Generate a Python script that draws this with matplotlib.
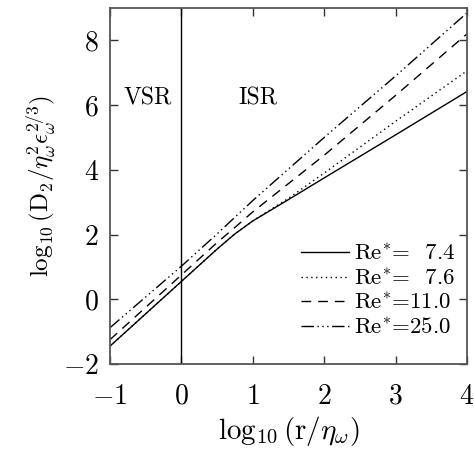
import numpy as np
import matplotlib
matplotlib.use("Agg")
import matplotlib.pyplot as plt

plt.rcParams['font.family'] = 'cmr10'
plt.rcParams['mathtext.fontset'] = 'cm'
plt.rcParams['axes.formatter.use_mathtext'] = True
plt.rcParams['lines.scale_dashes'] = False

# curves: log10(r/eta) vs log10(D2/...)
x_solid = [-1.0, 0.0, 0.5, 0.75, 1.0, 1.5, 2.0, 3.0, 4.0]
y_solid = [-1.45, 0.55, 1.55, 2.02, 2.42, 3.08, 3.75, 5.08, 6.42]

x_dot = [-1.0, 0.0, 0.5, 0.75, 1.0, 1.5, 2.0, 3.0, 4.0]
y_dot = [-1.45, 0.55, 1.55, 2.02, 2.42, 3.12, 3.9, 5.5, 7.06]

x_dash = [-1.0, 0.0, 0.5, 0.75, 1.0, 2.0, 3.0, 4.0]
y_dash = [-1.25, 0.75, 1.75, 2.22, 2.7, 4.45, 6.3, 8.2]

x_dd = [-1.0, 0.0, 0.5, 1.0, 2.0, 3.0, 4.0]
y_dd = [-0.88, 1.02, 2.02, 3.05, 5.0, 6.9, 8.85]

labels = ['Re$^{*}$=  7.4', 'Re$^{*}$=  7.6', 'Re$^{*}$=11.0', 'Re$^{*}$=25.0']

fig = plt.figure(figsize=(4.74, 4.51), dpi=100)
ax = fig.add_axes([0.232, 0.193, 0.753, 0.789])

lw = 1.0
ax.plot(x_solid, y_solid, color='black', lw=lw, ls='-', label=labels[0])
ax.plot(x_dot, y_dot, color='black', lw=lw, ls=(0, (1, 2.5)), label=labels[1])
ax.plot(x_dash, y_dash, color='black', lw=lw, ls=(0, (7, 5)), label=labels[2])
ax.plot(x_dd, y_dd, color='black', lw=lw,
        ls=(0, (9, 2.5, 1, 2.5, 1, 2.5, 1, 2.5)), label=labels[3])

ax.axvline(0, color='black', lw=1.0)

ax.text(-0.47, 6.2, 'VSR', fontsize=17, ha='center', va='center')
ax.text(1.07, 6.2, 'ISR', fontsize=17, ha='center', va='center')

ax.set_xlim(-1, 4)
ax.set_ylim(-2, 9)
ax.set_xticks([-1, 0, 1, 2, 3, 4])
ax.set_yticks([-2, 0, 2, 4, 6, 8])
ax.tick_params(direction='in', length=6, width=1, top=True, right=True,
               labelsize=20, colors='#333333', labelcolor='black')
ax.tick_params(axis='x', pad=14)
ax.tick_params(axis='y', pad=8)
for s in ax.spines.values():
    s.set_linewidth(1.3)
    s.set_color('#555555')

ax.set_xlabel(r'$\log_{10}(\mathrm{r}/\eta_\omega)$', fontsize=21, labelpad=3)
ax.set_ylabel(r'$\log_{10}(\mathrm{D}_2/\eta_\omega^2\epsilon_\omega^{2/3})$',
              fontsize=18, labelpad=4)

ax.legend(loc='upper right', bbox_to_anchor=(0.973, 0.345), frameon=False,
          fontsize=16.5, handlelength=2.1, handletextpad=0.2, labelspacing=0.18,
          borderaxespad=0.0, borderpad=0.1)

fig.savefig('out.png', dpi=100)
